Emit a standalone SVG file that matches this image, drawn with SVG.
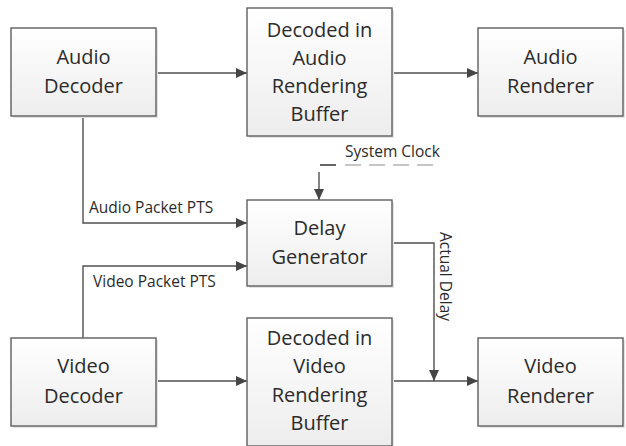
<svg xmlns="http://www.w3.org/2000/svg" width="626" height="446" viewBox="0 0 626 446">
  <style>
    .box { fill: url(#boxFill); stroke: #5e5e5e; stroke-width: 1.4; }
    .shadow { fill: #e3e3e3; }
    .node-text { font-family: "Open Sans", "Liberation Sans", sans-serif; font-size: 20px; fill: #2b2b2b; text-anchor: middle; }
    .label { font-family: "Open Sans", "Liberation Sans", sans-serif; font-size: 15.5px; fill: #2b2b2b; }
    .link { fill: none; stroke: #505050; stroke-width: 1.4; }
    .clock { fill: none; stroke: #b3b3b3; stroke-width: 1.6; stroke-dasharray: 16 8; }
  </style>
  <defs>
    <linearGradient id="boxFill" x1="0" y1="0" x2="0" y2="1">
      <stop offset="0" stop-color="#ffffff"/>
      <stop offset="1" stop-color="#ededed"/>
    </linearGradient>
    <marker id="arrow" markerWidth="12" markerHeight="10" refX="11" refY="5" orient="auto" markerUnits="userSpaceOnUse">
      <path d="M0,0 L11,5 L0,10 Z" fill="#454545"/>
    </marker>
  </defs>

  <rect width="626" height="446" fill="#ffffff"/>

  <!-- connectors -->
  <g id="connectors">
    <line class="link" x1="156" y1="73" x2="247" y2="73" marker-end="url(#arrow)"/>
    <line class="link" x1="392" y1="73" x2="478" y2="73" marker-end="url(#arrow)"/>
    <polyline class="link" points="83,116 83,223 247,223" marker-end="url(#arrow)"/>
    <polyline class="link" points="83,338 83,266 247,266" marker-end="url(#arrow)"/>
    <line class="link" x1="156" y1="381" x2="247" y2="381" marker-end="url(#arrow)"/>
    <line class="link" x1="392" y1="381" x2="478" y2="381" marker-end="url(#arrow)"/>
    <polyline class="link" points="392,243 434,243 434,381" marker-end="url(#arrow)"/>
    <!-- system clock feed -->
    <line x1="320" y1="165" x2="336" y2="165" stroke="#404040" stroke-width="1.6"/>
    <line class="clock" x1="345" y1="165" x2="435" y2="165"/>
    <line class="link" x1="319" y1="172" x2="319" y2="200" marker-end="url(#arrow)"/>
    <text class="label" x="89" y="213">Audio Packet PTS</text>
    <text class="label" x="93" y="287">Video Packet PTS</text>
    <text class="label" x="345" y="157">System Clock</text>
    <text class="label" transform="translate(440,232) rotate(90)">Actual Delay</text>
  </g>

  <g id="audio-decoder">
    <rect class="shadow" x="13" y="30" width="145" height="88"/>
    <rect class="box" x="11" y="28" width="145" height="88"/>
    <text class="node-text" x="83.5" y="64">Audio</text>
    <text class="node-text" x="83.5" y="93">Decoder</text>
  </g>

  <g id="audio-buffer">
    <rect class="shadow" x="249" y="10" width="145" height="128"/>
    <rect class="box" x="247" y="8" width="145" height="128"/>
    <text class="node-text" x="319.5" y="37">Decoded in</text>
    <text class="node-text" x="319.5" y="65">Audio</text>
    <text class="node-text" x="319.5" y="93">Rendering</text>
    <text class="node-text" x="319.5" y="121">Buffer</text>
  </g>

  <g id="audio-renderer">
    <rect class="shadow" x="480" y="30" width="145" height="88"/>
    <rect class="box" x="478" y="28" width="145" height="88"/>
    <text class="node-text" x="550.5" y="64">Audio</text>
    <text class="node-text" x="550.5" y="93">Renderer</text>
  </g>

  <g id="delay-generator">
    <rect class="shadow" x="249" y="202" width="145" height="86"/>
    <rect class="box" x="247" y="200" width="145" height="86"/>
    <text class="node-text" x="319.5" y="235">Delay</text>
    <text class="node-text" x="319.5" y="264">Generator</text>
  </g>

  <g id="video-decoder">
    <rect class="shadow" x="13" y="340" width="145" height="88"/>
    <rect class="box" x="11" y="338" width="145" height="88"/>
    <text class="node-text" x="83.5" y="373">Video</text>
    <text class="node-text" x="83.5" y="403">Decoder</text>
  </g>

  <g id="video-buffer">
    <rect class="shadow" x="249" y="320" width="145" height="128"/>
    <rect class="box" x="247" y="318" width="145" height="128"/>
    <text class="node-text" x="319.5" y="345">Decoded in</text>
    <text class="node-text" x="319.5" y="373">Video</text>
    <text class="node-text" x="319.5" y="402">Rendering</text>
    <text class="node-text" x="319.5" y="430">Buffer</text>
  </g>

  <g id="video-renderer">
    <rect class="shadow" x="480" y="340" width="145" height="88"/>
    <rect class="box" x="478" y="338" width="145" height="88"/>
    <text class="node-text" x="550.5" y="373">Video</text>
    <text class="node-text" x="550.5" y="403">Renderer</text>
  </g>
</svg>
